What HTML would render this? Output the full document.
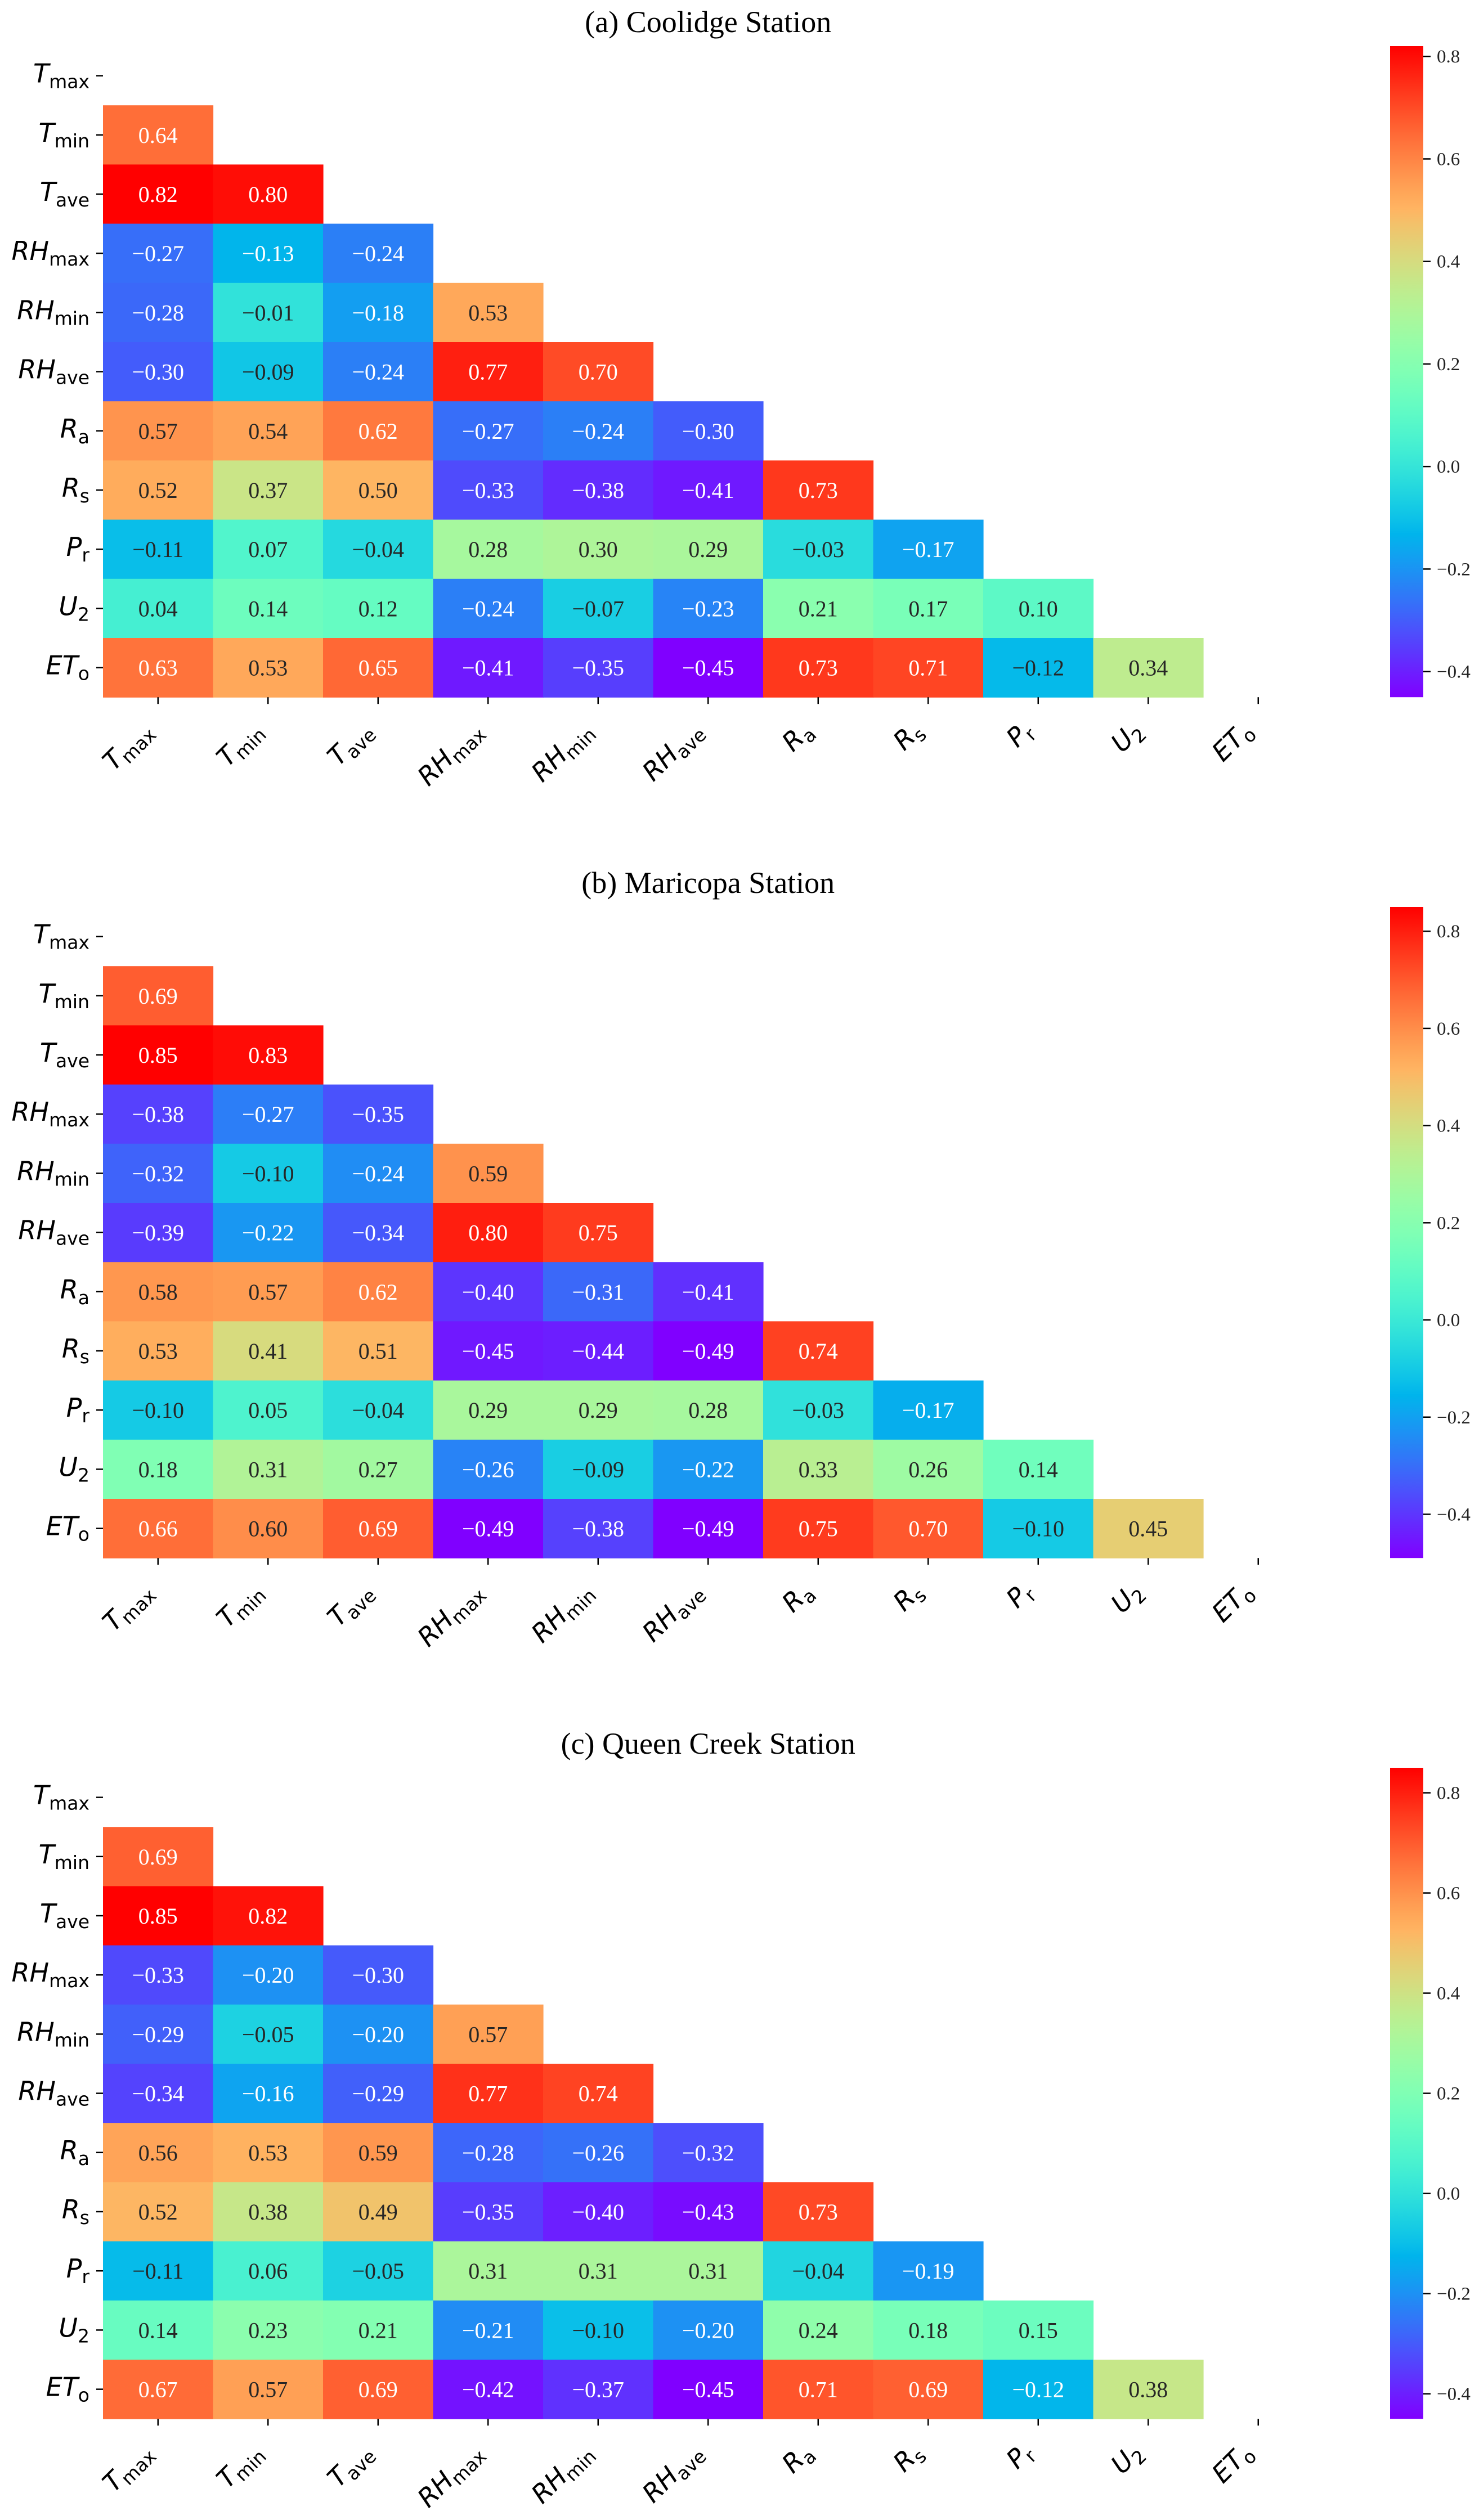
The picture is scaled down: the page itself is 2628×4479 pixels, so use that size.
<!DOCTYPE html>
<html><head><meta charset="utf-8">
<style>
html,body{margin:0;padding:0;background:#fff;}
svg{display:block;}
</style></head>
<body>
<svg id="fig" xmlns="http://www.w3.org/2000/svg" width="2628" height="4479" viewBox="0 0 2628 4479">
<defs id="defs"></defs>
</svg>
<script>
const varMain = ["T","T","T","RH","RH","RH","R","R","P","U","ET"];
const varSub = ["max","min","ave","max","min","ave","a","s","r","2","o"];
const panelTitles = ["(a) Coolidge Station","(b) Maricopa Station","(c) Queen Creek Station"];
const coolidge = [
 [],
 [0.64],
 [0.82,0.80],
 [-0.27,-0.13,-0.24],
 [-0.28,-0.01,-0.18,0.53],
 [-0.30,-0.09,-0.24,0.77,0.70],
 [0.57,0.54,0.62,-0.27,-0.24,-0.30],
 [0.52,0.37,0.50,-0.33,-0.38,-0.41,0.73],
 [-0.11,0.07,-0.04,0.28,0.30,0.29,-0.03,-0.17],
 [0.04,0.14,0.12,-0.24,-0.07,-0.23,0.21,0.17,0.10],
 [0.63,0.53,0.65,-0.41,-0.35,-0.45,0.73,0.71,-0.12,0.34]
];
const maricopa = [
 [],
 [0.69],
 [0.85,0.83],
 [-0.38,-0.27,-0.35],
 [-0.32,-0.10,-0.24,0.59],
 [-0.39,-0.22,-0.34,0.80,0.75],
 [0.58,0.57,0.62,-0.40,-0.31,-0.41],
 [0.53,0.41,0.51,-0.45,-0.44,-0.49,0.74],
 [-0.10,0.05,-0.04,0.29,0.29,0.28,-0.03,-0.17],
 [0.18,0.31,0.27,-0.26,-0.09,-0.22,0.33,0.26,0.14],
 [0.66,0.60,0.69,-0.49,-0.38,-0.49,0.75,0.70,-0.10,0.45]
];
const queenCreek = [
 [],
 [0.69],
 [0.85,0.82],
 [-0.33,-0.20,-0.30],
 [-0.29,-0.05,-0.20,0.57],
 [-0.34,-0.16,-0.29,0.77,0.74],
 [0.56,0.53,0.59,-0.28,-0.26,-0.32],
 [0.52,0.38,0.49,-0.35,-0.40,-0.43,0.73],
 [-0.11,0.06,-0.05,0.31,0.31,0.31,-0.04,-0.19],
 [0.14,0.23,0.21,-0.21,-0.10,-0.20,0.24,0.18,0.15],
 [0.67,0.57,0.69,-0.42,-0.37,-0.45,0.71,0.69,-0.12,0.38]
];
const colorbarTicks = [-0.4,-0.2,0.0,0.2,0.4,0.6,0.8];

const NS = "http://www.w3.org/2000/svg";
const svg = document.getElementById("fig");
const defs = document.getElementById("defs");
const X0 = 183, CW = 195.5, Y0 = 82, RH = 105.2, N = 11, PANEL_DY = 1530;
const CB_X = 2470, CB_W = 59;

function mk(tag, attrs, parent){
  const e = document.createElementNS(NS, tag);
  for (const k in attrs) e.setAttribute(k, attrs[k]);
  (parent||svg).appendChild(e);
  return e;
}
function rainbow(x){
  x = Math.max(0, Math.min(1, x));
  const r = Math.min(1, Math.abs(2*x - 0.5));
  const g = Math.max(0, Math.sin(Math.PI*x));
  const b = Math.max(0, Math.cos(Math.PI*x/2));
  return [r,g,b];
}
function hex(c){ return "rgb(" + c.map(v=>Math.round(v*255)).join(",") + ")"; }
function lum(c){
  const l = c.map(v => v <= 0.03928 ? v/12.92 : Math.pow((v+0.055)/1.055, 2.4));
  return 0.2126*l[0] + 0.7152*l[1] + 0.0722*l[2];
}
function fmt(v){ const s = Math.abs(v).toFixed(2); return (v < 0 ? "\u2212" : "") + s; }

function addLabel(g, x, y, i, rotate){
  const t = mk("text", {x:x, y:y, "text-anchor":"end", "font-family":"'DejaVu Sans', sans-serif", "font-size":"46", fill:"#000"}, g);
  if (rotate) t.setAttribute("transform", "rotate(-45 " + x + " " + y + ")");
  const a = mk("tspan", {"font-style":"italic"}, t);
  a.textContent = varMain[i];
  const b = mk("tspan", {"font-size":"33", dy:"10"}, t);
  b.textContent = varSub[i];
  return t;
}

function drawPanel(p, data){
  const oy = p * PANEL_DY;
  const g = mk("g", {});
  
  
  let all = [];
  data.forEach(r => r.forEach(v => all.push(v)));
  const vmin = Math.min(...all), vmax = Math.max(...all);
  const norm = v => (v - vmin) / (vmax - vmin);
  const colX = j => X0 + j*CW;
  const rowY = i => oy + Y0 + i*RH;

  const title = mk("text", {x: X0 + N*CW/2, y: oy + 57, "text-anchor":"middle", "font-family":"'Liberation Serif', serif", "font-size":"54", fill:"#000"}, g);
  title.textContent = panelTitles[p];
  
  

  data.forEach((row, i) => {
    row.forEach((v, j) => {
      const c = rainbow(norm(v));
      const rect = mk("rect", {x: colX(j), y: rowY(i), width: CW+0.6, height: RH+0.6, fill: hex(c)}, g);
      
      
      const t = mk("text", {x: colX(j)+CW/2, y: rowY(i)+RH/2+14, "text-anchor":"middle", "font-family":"'Liberation Serif', serif", "font-size":"40", fill: lum(c) > 0.408 ? "#262626" : "#ffffff"}, g);
      t.textContent = fmt(v);
      
      
    });
  });

  for (let i = 0; i < N; i++){
    const cy = rowY(i) + RH/2;
    mk("line", {x1: X0-12, x2: X0, y1: cy, y2: cy, stroke:"#000", "stroke-width":"2.5"}, g);
    const yl = addLabel(g, X0-24, cy+12, i, false);
    
    
    const cx = colX(i) + CW/2;
    const by = oy + Y0 + N*RH;
    mk("line", {x1: cx, x2: cx, y1: by, y2: by+12, stroke:"#000", "stroke-width":"2.5"}, g);
    const xl = addLabel(g, cx-8, by+62, i, true);
    
    
  }

  // colorbar
  const top = oy + Y0, H = N*RH;
  const gid = "grad" + p;
  const lg = mk("linearGradient", {id: gid, x1:"0", y1:"1", x2:"0", y2:"0"}, defs);
  for (let k = 0; k <= 40; k++){
    mk("stop", {offset: (k/40), "stop-color": hex(rainbow(k/40))}, lg);
  }
  const cb = mk("rect", {x: CB_X, y: top, width: CB_W, height: H, fill: "url(#" + gid + ")"}, g);
  
  
  colorbarTicks.forEach(v => {
    if (v < vmin - 1e-9 || v > vmax + 1e-9) return;
    const y = top + (vmax - v)/(vmax - vmin)*H;
    mk("line", {x1: CB_X+CB_W, x2: CB_X+CB_W+13, y1: y, y2: y, stroke:"#000", "stroke-width":"2.5"}, g);
    const t = mk("text", {x: CB_X+CB_W+24, y: y+11, "font-family":"'Liberation Serif', serif", "font-size":"33", fill:"#222"}, g);
    t.textContent = (v < 0 ? "\u2212" : "") + Math.abs(v).toFixed(1);
    
    
  });
}
drawPanel(0, coolidge);
drawPanel(1, maricopa);
drawPanel(2, queenCreek);
</script>
</body></html>
